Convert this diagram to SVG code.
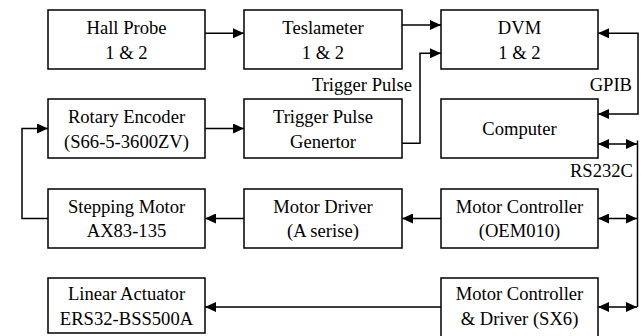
<svg xmlns="http://www.w3.org/2000/svg" width="641" height="336" viewBox="0 0 641 336">
<style>
.box{fill:#fff;stroke:#000;stroke-width:1.5}
.t{font-family:"Liberation Serif","Times New Roman",serif;font-size:18.6px;fill:#000;text-anchor:middle}
.lbl{font-family:"Liberation Serif","Times New Roman",serif;font-size:18.6px;fill:#000;text-anchor:end}
.c{fill:none;stroke:#000;stroke-width:1.5}
</style>
<defs>
<marker id="ah" markerUnits="userSpaceOnUse" markerWidth="12" markerHeight="10" refX="11" refY="5" orient="auto-start-reverse">
<path d="M0,0 L11,5 L0,10 z" fill="#000"/>
</marker>
</defs>
<rect width="641" height="336" fill="#fff"/>
<g id="hall"><rect class="box" x="48" y="10" width="157" height="59"/><text class="t" x="126.5" y="33.5">Hall Probe</text><text class="t" x="126.5" y="59">1 &amp; 2</text></g>
<g id="tesla"><rect class="box" x="244" y="10" width="158" height="59"/><text class="t" x="323" y="33.5">Teslameter</text><text class="t" x="323" y="59">1 &amp; 2</text></g>
<g id="dvm"><rect class="box" x="441" y="10" width="157" height="59"/><text class="t" x="519.5" y="33.5">DVM</text><text class="t" x="519.5" y="59">1 &amp; 2</text></g>
<g id="rotary"><rect class="box" x="48" y="99" width="157" height="59"/><text class="t" x="126.5" y="123">Rotary Encoder</text><text class="t" x="126.5" y="148">(S66-5-3600ZV)</text></g>
<g id="trigger"><rect class="box" x="244" y="99" width="158" height="59"/><text class="t" x="323" y="123">Trigger Pulse</text><text class="t" x="323" y="148">Genertor</text></g>
<g id="computer"><rect class="box" x="441" y="99" width="157" height="59"/><text class="t" x="519.5" y="135">Computer</text></g>
<g id="stepping"><rect class="box" x="48" y="189" width="157" height="59"/><text class="t" x="126.5" y="212.5">Stepping Motor</text><text class="t" x="126.5" y="237">AX83-135</text></g>
<g id="driver"><rect class="box" x="244" y="189" width="158" height="59"/><text class="t" x="323" y="212.5">Motor Driver</text><text class="t" x="323" y="237">(A serise)</text></g>
<g id="oem"><rect class="box" x="441" y="189" width="157" height="59"/><text class="t" x="519.5" y="212.5">Motor Controller</text><text class="t" x="519.5" y="237">(OEM010)</text></g>
<g id="linear"><rect class="box" x="48" y="278" width="157" height="55"/><text class="t" x="126.5" y="299.5">Linear Actuator</text><text class="t" x="126.5" y="325">ERS32-BSS500A</text></g>
<g id="sx6"><rect class="box" x="441" y="278" width="157" height="60"/><text class="t" x="519.5" y="299.5">Motor Controller</text><text class="t" x="519.5" y="325">&amp; Driver (SX6)</text></g>
<g id="connectors">
<path class="c" d="M205,33.3 H244" marker-end="url(#ah)"/>
<path class="c" d="M402,25 H441" marker-end="url(#ah)"/>
<path class="c" d="M402,143.3 H420 V53.3 H441" marker-end="url(#ah)"/>
<path class="c" d="M205,128.5 H244" marker-end="url(#ah)"/>
<path class="c" d="M48,218.5 H22 V128.5 H48" marker-end="url(#ah)"/>
<path class="c" d="M441,218.5 H402" marker-end="url(#ah)"/>
<path class="c" d="M244,218.5 H205" marker-end="url(#ah)"/>
<path class="c" d="M441,307 H205" marker-end="url(#ah)"/>
<path class="c" d="M598,33.3 H638 V114 H598" marker-start="url(#ah)" marker-end="url(#ah)"/>
<path class="c" d="M637.5,140.5 V307"/>
<path class="c" d="M598,144 H637" marker-start="url(#ah)" marker-end="url(#ah)"/>
<path class="c" d="M598,218.5 H637" marker-start="url(#ah)" marker-end="url(#ah)"/>
<path class="c" d="M598,307 H637" marker-start="url(#ah)" marker-end="url(#ah)"/>
<text class="lbl" x="412" y="90.5">Trigger Pulse</text>
<text class="lbl" x="632" y="90.5">GPIB</text>
<text class="lbl" x="633" y="177">RS232C</text>
</g>
</svg>
